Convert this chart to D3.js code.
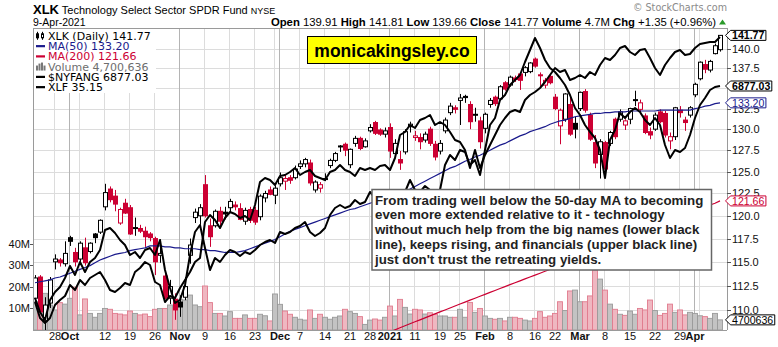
<!DOCTYPE html>
<html><head><meta charset="utf-8">
<script src="https://cdn.jsdelivr.net/npm/d3@7"></script>
<style>body{margin:0;background:#fff}svg{display:block}</style>
</head><body>
<svg id="c" width="778" height="347"></svg>
<script>
const dates = ["2020-09-22","2020-09-23","2020-09-24","2020-09-25","2020-09-28","2020-09-29","2020-09-30",
"2020-10-01","2020-10-02","2020-10-05","2020-10-06","2020-10-07","2020-10-08","2020-10-09","2020-10-12","2020-10-13","2020-10-14","2020-10-15","2020-10-16","2020-10-19","2020-10-20","2020-10-21","2020-10-22","2020-10-23","2020-10-26","2020-10-27","2020-10-28","2020-10-29","2020-10-30",
"2020-11-02","2020-11-03","2020-11-04","2020-11-05","2020-11-06","2020-11-09","2020-11-10","2020-11-11","2020-11-12","2020-11-13","2020-11-16","2020-11-17","2020-11-18","2020-11-19","2020-11-20","2020-11-23","2020-11-24","2020-11-25","2020-11-27","2020-11-30",
"2020-12-01","2020-12-02","2020-12-03","2020-12-04","2020-12-07","2020-12-08","2020-12-09","2020-12-10","2020-12-11","2020-12-14","2020-12-15","2020-12-16","2020-12-17","2020-12-18","2020-12-21","2020-12-22","2020-12-23","2020-12-24","2020-12-28","2020-12-29","2020-12-30","2020-12-31",
"2021-01-04","2021-01-05","2021-01-06","2021-01-07","2021-01-08","2021-01-11","2021-01-12","2021-01-13","2021-01-14","2021-01-15","2021-01-19","2021-01-20","2021-01-21","2021-01-22","2021-01-25","2021-01-26","2021-01-27","2021-01-28","2021-01-29",
"2021-02-01","2021-02-02","2021-02-03","2021-02-04","2021-02-05","2021-02-08","2021-02-09","2021-02-10","2021-02-11","2021-02-12","2021-02-16","2021-02-17","2021-02-18","2021-02-19","2021-02-22","2021-02-23","2021-02-24","2021-02-25","2021-02-26",
"2021-03-01","2021-03-02","2021-03-03","2021-03-04","2021-03-05","2021-03-08","2021-03-09","2021-03-10","2021-03-11","2021-03-12","2021-03-15","2021-03-16","2021-03-17","2021-03-18","2021-03-19","2021-03-22","2021-03-23","2021-03-24","2021-03-25","2021-03-26","2021-03-29","2021-03-30","2021-03-31",
"2021-04-01","2021-04-05","2021-04-06","2021-04-07","2021-04-08","2021-04-09"];

const prevClose = 112.0;
const opens = [111.2,113.4,108.9,110.7,115.0,115.2,114.8,117.6,116.0,115.3,
116.5,116.1,118.0,118.2,121.0,123.0,122.2,119.2,121.4,120.9,
118.7,118.6,118.3,118.0,117.5,115.7,113.5,111.2,111.1,110.8,
111.3,115.7,119.8,120.0,123.5,118.9,118.9,120.5,120.4,120.9,
121.2,120.8,119.4,120.7,120.6,119.9,122.0,122.9,122.3,123.6,
123.9,124.3,124.3,125.6,125.9,126.0,122.9,123.1,124.2,125.7,
126.3,128.0,128.2,125.8,128.3,128.9,127.9,129.8,130.8,129.9,
129.4,130.2,127.1,126.4,127.3,130.3,129.0,129.0,128.7,130.0,
128.2,127.4,129.8,132.0,132.6,133.5,134.0,133.0,131.8,131.0,
130.1,133.0,133.9,133.7,135.7,135.4,136.3,136.8,137.0,137.1,
138.7,136.7,135.4,136.5,133.9,130.4,131.2,133.0,130.7,132.5,
134.6,131.7,128.4,127.0,128.4,128.3,131.2,131.2,130.5,131.2,
133.6,132.4,131.6,129.7,130.0,132.1,131.9,128.6,129.1,132.3,
131.1,131.7,134.2,136.2,138.0,137.3,139.4,139.91];
const highs = [113.6,113.6,111.3,113.4,115.8,115.4,117.2,117.8,116.5,117.2,
117.6,117.1,118.1,119.6,123.6,123.3,122.9,120.9,121.9,121.2,
119.8,119.0,118.8,118.2,117.7,117.4,113.7,113.1,111.7,111.5,
113.4,117.5,120.8,121.3,124.6,119.7,120.7,121.0,121.0,121.9,
121.6,121.4,120.9,121.0,121.0,122.4,122.8,123.3,123.4,124.9,
124.6,124.6,125.7,126.3,126.6,126.4,124.0,123.8,124.8,126.5,
127.3,128.1,128.4,127.7,129.2,129.1,128.9,130.6,131.0,130.1,
130.2,130.7,128.8,127.4,130.0,130.9,129.8,129.5,129.7,130.3,
128.6,128.7,131.4,133.2,132.9,134.3,134.2,133.4,132.6,131.5,
132.0,133.8,134.1,135.4,135.9,136.6,136.6,137.0,137.8,138.3,
138.9,137.0,136.3,136.8,134.3,132.5,134.4,134.0,131.5,134.6,
134.9,132.0,129.3,128.8,128.6,129.8,131.4,132.4,131.2,132.6,
134.7,133.6,131.9,130.2,132.0,132.4,132.2,129.6,132.7,132.8,
131.5,132.8,135.7,138.4,138.6,138.6,140.7,141.81];
const lows = [110.8,109.6,107.9,110.2,114.2,114.5,114.5,116.7,114.5,115.0,
114.6,115.9,117.0,118.0,120.6,121.5,120.5,119.0,120.2,117.9,
117.8,118.1,116.6,117.2,113.6,114.9,111.1,110.6,109.0,109.3,
111.0,114.8,119.2,119.0,119.8,116.6,118.7,118.6,119.6,120.3,
120.6,119.5,119.0,119.2,119.0,119.5,121.5,122.3,121.3,123.3,
122.9,123.6,124.1,125.3,125.5,123.4,122.6,122.6,123.9,125.4,
126.1,127.3,126.8,125.4,127.9,127.5,127.8,129.6,129.3,129.2,
129.0,126.6,126.8,125.2,127.0,129.6,128.6,127.6,128.4,128.0,
126.3,127.0,129.5,131.7,131.9,130.5,133.2,130.0,130.9,127.7,
129.5,132.6,132.8,133.5,134.7,135.2,135.8,134.8,136.5,136.9,
137.6,135.3,135.0,135.5,132.3,128.2,130.9,129.2,128.9,132.2,
132.0,128.6,125.4,124.2,124.6,128.0,128.8,130.9,129.9,130.6,
132.8,131.8,129.4,128.8,129.8,130.7,129.0,127.6,128.7,131.4,
129.8,131.4,133.9,136.0,136.9,137.0,139.3,139.66];
const closes = [113.3,109.8,110.5,113.1,115.3,114.9,115.9,117.2,115.0,117.0,
114.9,117.0,117.6,119.5,122.6,121.8,121.3,120.7,120.3,118.0,
118.6,118.3,117.7,117.6,115.0,115.9,111.2,112.4,110.0,110.3,
112.4,116.8,120.4,120.9,120.0,117.7,120.5,119.4,120.2,121.6,
121.0,119.6,120.6,119.5,119.3,122.2,122.5,122.4,123.1,124.3,
124.2,124.0,125.3,125.9,126.4,123.7,123.8,123.5,124.1,126.3,
127.1,127.9,127.5,127.6,128.9,127.7,128.6,130.2,129.5,129.4,
129.8,127.4,128.3,126.0,129.7,130.6,129.2,128.5,129.4,128.3,
126.7,128.3,131.1,132.8,132.4,133.8,133.85,130.9,131.7,128.5,
131.8,133.5,133.1,135.2,134.9,136.4,136.1,136.0,137.6,138.2,
137.8,136.6,136.0,135.7,132.5,132.3,134.3,129.4,130.0,134.5,
132.3,128.8,126.0,128.5,125.3,129.6,129.1,132.1,131.0,132.5,
133.5,133.2,129.6,129.3,131.7,130.9,129.3,129.1,132.6,132.0,
130.8,132.6,135.5,138.3,137.4,138.4,140.42,141.77];
// volume, millions of shares
const volumes = [13.1,12.0,17.0,11.6,9.3,12.7,12.0,14.7,19.8,7.0,
14.4,7.7,5.9,7.7,10.0,9.6,7.7,7.4,7.0,8.8,
7.7,7.0,7.4,6.2,9.6,10.0,10.0,11.6,10.0,14.2,
13.9,16.2,11.6,10.8,20.4,12.7,7.7,7.7,6.5,8.5,
5.4,5.4,7.0,5.4,5.4,7.3,6.6,4.2,16.7,11.9,
8.8,7.3,5.9,5.0,4.6,9.3,5.4,7.3,5.9,5.0,
5.9,6.5,9.6,8.5,7.7,6.2,2.6,4.6,5.1,4.6,
5.9,11.1,6.5,14.2,10.5,7.4,9.6,9.3,7.4,8.0,
7.3,6.5,6.5,5.9,5.9,9.6,5.9,12.8,8.2,10.0,
6.5,5.4,5.0,5.4,4.2,5.9,5.9,5.4,4.6,4.2,
5.4,8.5,5.9,6.5,7.7,13.1,9.0,18.1,18.5,13.1,
13.1,15.8,27.8,23.6,18.5,12.0,9.6,7.3,6.8,8.8,
7.3,10.0,9.3,13.9,9.0,6.8,7.7,12.0,8.2,9.3,
7.0,8.2,7.7,6.6,6.2,5.4,7.7,4.700636];
const ma50 = [112.8,112.9,113.0,113.1,113.3,113.4,113.6,113.8,114.0,114.2,
114.4,114.6,114.9,115.2,115.4,115.6,115.8,115.9,116.0,116.2,
116.3,116.4,116.5,116.7,116.7,116.7,116.6,116.6,116.5,116.5,
116.4,116.4,116.4,116.3,116.3,116.2,116.2,116.1,116.0,116.0,
116.0,116.1,116.2,116.4,116.6,116.8,117.0,117.2,117.4,117.7,
118.0,118.3,118.5,118.7,118.9,119.1,119.3,119.5,119.7,119.9,
120.1,120.3,120.5,120.7,120.8,121.0,121.2,121.4,121.6,121.8,
122.0,122.2,122.4,122.6,122.8,123.0,123.3,123.6,123.9,124.2,
124.5,124.8,125.1,125.4,125.6,125.9,126.2,126.4,126.7,126.9,
127.2,127.5,127.8,128.1,128.3,128.6,128.9,129.2,129.4,129.7,
129.9,130.1,130.3,130.6,130.8,131.0,131.1,131.3,131.5,131.6,
131.7,131.8,131.9,131.9,132.0,132.0,132.1,132.1,132.1,132.2,
132.2,132.2,132.2,132.2,132.2,132.3,132.3,132.3,132.3,132.3,
132.3,132.3,132.5,132.6,132.8,132.9,133.1,133.2];
const ma200Start = 68; // first session index of the ma200 list
const ma200 = [107.2,107.4,107.6,107.8,108.0,
108.2,108.4,108.6,108.8,109.0,109.2,109.4,109.6,109.8,110.0,
110.2,110.4,110.6,110.8,111.0,111.2,111.4,111.6,111.8,112.0,
112.2,112.4,112.6,112.8,113.0,113.2,113.4,113.6,113.8,114.0,
114.2,114.4,114.6,114.9,115.1,115.3,115.5,115.7,116.0,116.2,
116.4,116.6,116.8,117.1,117.3,117.5,117.7,117.9,118.2,118.4,
118.6,118.8,119.0,119.3,119.5,119.7,119.9,120.1,120.4,120.6,
120.8,121.0,121.2,121.4,121.66];
const nyfang = [4757,4617,4537,4737,4817,4867,4957,5077,4987,5117,
5017,5117,5157,5237,5437,5457,5407,5337,5287,5187,
5217,5157,5237,5257,5187,5337,5037,4857,4707,4737,
4887,5187,5417,5487,5257,5037,5157,5117,5187,5237,
5217,5177,5217,5197,5237,5287,5317,5337,5307,5417,
5397,5417,5457,5477,5517,5417,5377,5407,5457,5587,
5657,5687,5657,5677,5737,5697,5717,5817,5757,5737,
5757,5687,5737,5637,5817,5937,5837,5817,5877,5837,
5757,5837,6087,6187,6137,6237,6217,6087,6137,5987,
6237,6487,6557,6737,6787,6887,6937,6987,7117,7237,
7357,7257,7137,7057,7017,6957,6887,6787,6657,6587,
6487,6417,6357,6237,5957,6337,6437,6607,6557,6617,
6657,6617,6537,6487,6557,6487,6287,6157,6237,6217,
6257,6387,6557,6687,6757,6837,6867,6877.03];
const xlf = [24.55,23.91,23.71,23.91,24.43,24.63,24.79,25.23,25.03,25.43,
25.23,25.51,25.63,25.75,25.43,25.03,24.95,25.11,25.31,25.23,
25.75,25.91,26.15,26.03,25.35,25.23,24.55,24.79,24.71,25.11,
25.43,25.75,26.15,26.31,27.75,28.03,27.83,27.51,27.91,28.15,
28.07,27.91,27.99,27.83,28.43,29.35,29.51,29.43,29.23,29.59,
29.63,29.75,29.91,29.63,29.75,29.83,29.59,29.51,29.43,29.75,
29.83,30.03,29.83,29.75,29.59,29.91,29.83,29.91,29.83,29.99,
30.03,29.83,30.31,31.23,31.35,31.63,31.51,31.83,31.91,32.03,
31.63,31.75,31.63,31.35,31.03,30.95,30.63,29.91,30.63,29.91,
30.43,30.83,31.23,31.63,31.91,32.15,32.23,32.15,32.63,32.83,
32.95,33.11,33.35,33.63,33.91,33.75,33.83,33.43,33.51,33.63,
33.51,33.75,33.63,34.03,34.31,34.23,34.43,34.71,34.79,34.55,
34.43,34.63,34.67,34.31,33.91,33.63,34.03,34.31,34.55,34.63,
34.43,34.47,34.71,34.87,34.91,34.95,34.95,35.15];

const priceDomain = [107.98, 142.74];
const volDomain = [0, 140];
const nyDomain = [4437, 7457];
const xlfDomain = [23.43, 35.51];
// 135.0 sits fully under the $NYFANG tag in the reference, so it is not listed
const priceTicks = [110, 112.5, 115, 117.5, 120, 122.5, 125, 127.5, 130, 132.5, 137.5, 140];
const gridTicks = [110, 112.5, 115, 117.5, 120, 122.5, 125, 127.5, 130, 132.5, 135, 137.5, 140];
const volTicks = [10, 20, 30, 40];
const xTickDates = ["2020-09-28","2020-10-01","2020-10-05","2020-10-12","2020-10-19","2020-10-26","2020-11-02","2020-11-09","2020-11-16","2020-11-23","2020-11-30","2020-12-01","2020-12-07","2020-12-14","2020-12-21","2020-12-28","2021-01-04","2021-01-11","2021-01-19","2021-01-25","2021-02-01","2021-02-08","2021-02-16","2021-02-22","2021-03-01","2021-03-08","2021-03-15","2021-03-22","2021-03-29","2021-04-01","2021-04-05"];
const xTickLabels = ["28","Oct","","12","19","26","Nov","9","16","23","","Dec","7","14","21","28","2021","11","19","25","Feb","8","16","22","Mar","8","15","22","29","Apr",""];
const monthTicks = ["2020-10-01","2020-11-02","2020-12-01","2021-01-04","2021-02-01","2021-03-01","2021-04-01"];
const noteLines = ["From trading well below the 50-day MA to becoming",
"even more extended relative to it - technology",
"without much help from the big names (lower black",
"line), keeps rising, and financials (upper black line)",
"just don't trust the retreating yields."];

const L = 33, R = 727, T = 28, B = 330;
const RED = "#cc0033", NAVY = "#1a1a8c";
const AR = "'Liberation Sans', Arial, sans-serif";
const DJ = "'DejaVu Sans', Verdana, sans-serif";
const svg = d3.select("#c");
svg.append("rect").attr("width",778).attr("height",347).attr("fill","#fff");
svg.append("clipPath").attr("id","pc").append("rect").attr("x",L).attr("y",T).attr("width",R-L).attr("height",B-T);

const x = d3.scalePoint().domain(dates).range([35, 720]);
const y = d3.scaleLog().domain(priceDomain).range([B, T]);
const yv = d3.scaleLinear().domain(volDomain).range([B, T]);
const yN = d3.scaleLinear().domain(nyDomain).range([B, T]);
const yF = d3.scaleLinear().domain(xlfDomain).range([B, T]);

// grid
const grid = svg.append("g");
grid.selectAll(".hg").data(gridTicks).join("line")
  .attr("x1",L).attr("x2",R).attr("y1",d=>Math.round(y(d))+0.5).attr("y2",d=>Math.round(y(d))+0.5)
  .attr("stroke","#dcdcdc").attr("stroke-width",1);
grid.selectAll(".vg").data(xTickDates).join("line")
  .attr("x1",d=>Math.round(x(d))-0.5).attr("x2",d=>Math.round(x(d))-0.5).attr("y1",T).attr("y2",B)
  .attr("stroke",d=>monthTicks.includes(d)?"#b4b4b4":"#dcdcdc").attr("stroke-width",1);

const plot = svg.append("g").attr("clip-path","url(#pc)");
// volume
const prevOf = i => i === 0 ? prevClose : closes[i-1];
plot.append("g").selectAll("rect").data(dates).join("rect")
  .attr("x",d=>x(d)-2.5).attr("width",5)
  .attr("y",(d,i)=>yv(volumes[i])).attr("height",(d,i)=>B-yv(volumes[i]))
  .attr("fill",(d,i)=>closes[i] < prevOf(i) ? "#efb7c1" : "#c3c3c3")
  .attr("stroke",(d,i)=>closes[i] < prevOf(i) ? "#e07b8e" : "#9a9a9a").attr("stroke-width",0.9);

// candles
const cg = plot.append("g");
dates.forEach((d,i)=>{
  const col = closes[i] < prevOf(i) ? RED : "#000";
  const hollow = closes[i] > opens[i];
  const cx = Math.round(x(d)) + 0.5;
  cg.append("line").attr("x1",cx).attr("x2",cx).attr("y1",y(highs[i])).attr("y2",y(lows[i]))
    .attr("stroke",col).attr("stroke-width",1);
  const top = y(Math.max(opens[i],closes[i])), bot = y(Math.min(opens[i],closes[i]));
  const h = Math.max(1, bot-top);
  if (hollow) {
    cg.append("rect").attr("x",cx-2).attr("y",top).attr("width",4).attr("height",h)
      .attr("fill","#fff").attr("stroke",col).attr("stroke-width",1);
  } else {
    cg.append("rect").attr("x",cx-2.5).attr("y",top-0.5).attr("width",5).attr("height",h+1).attr("fill",col);
  }
});

// MAs
plot.append("path").datum(ma50).attr("fill","none").attr("stroke",NAVY).attr("stroke-width",1.2)
  .attr("d",d3.line().x((v,i)=>x(dates[i])).y(v=>y(v)));
plot.append("path").datum(ma200).attr("fill","none").attr("stroke",RED).attr("stroke-width",1.2)
  .attr("d",d3.line().x((v,i)=>x(dates[i+ma200Start])).y(v=>y(v)));
// overlays
plot.append("path").datum(nyfang).attr("fill","none").attr("stroke","#000").attr("stroke-width",2).attr("stroke-linejoin","round")
  .attr("d",d3.line().x((v,i)=>x(dates[i])).y(v=>yN(v)));
plot.append("path").datum(xlf).attr("fill","none").attr("stroke","#000").attr("stroke-width",2).attr("stroke-linejoin","round")
  .attr("d",d3.line().x((v,i)=>x(dates[i])).y(v=>yF(v)));

// frame
const fr = svg.append("g").attr("stroke","#9a9a9a").attr("stroke-width",1);
fr.append("line").attr("x1",L+0.5).attr("x2",L+0.5).attr("y1",T).attr("y2",B);
fr.append("line").attr("x1",R+0.5).attr("x2",R+0.5).attr("y1",T).attr("y2",B);
fr.append("line").attr("x1",L).attr("x2",R).attr("y1",T+0.5).attr("y2",T+0.5);
fr.append("line").attr("x1",L).attr("x2",R).attr("y1",B+0.5).attr("y2",B+0.5);

// right price axis
const ra = svg.append("g");
priceTicks.forEach(t=>{
  const yy = Math.round(y(t))+0.5;
  ra.append("line").attr("x1",R).attr("x2",R+4).attr("y1",yy).attr("y2",yy).attr("stroke","#555");
  ra.append("text").attr("x",R+5).attr("y",yy).attr("dy","0.36em").attr("font-family",AR).attr("font-size",11)
    .attr("fill","#111").text(d3.format(".1f")(t));
});
// left volume axis
volTicks.forEach(t=>{
  const yy = Math.round(yv(t))+0.5;
  svg.append("line").attr("x1",L-3).attr("x2",L).attr("y1",yy).attr("y2",yy).attr("stroke","#555");
  svg.append("text").attr("x",L-3).attr("y",yy).attr("dy","0.36em").attr("text-anchor","end")
    .attr("font-family",AR).attr("font-size",11).attr("fill","#111").text(t+"M");
});
// x axis labels
xTickDates.forEach((d,i)=>{
  if (!xTickLabels[i]) return;
  svg.append("text").attr("x",x(d)).attr("y",340).attr("text-anchor","middle")
    .attr("font-family",AR).attr("font-size",11).attr("font-weight",monthTicks.includes(d)?"bold":"normal")
    .attr("fill","#111").text(xTickLabels[i]);
});

// legend
const lg = svg.append("g");
lg.append("rect").attr("x",L+1).attr("y",T+1).attr("width",122).attr("height",64).attr("fill","#fff");
const last = dates.length-1;
const legendItems = [
  {t:"XLK (Daily) "+closes[last].toFixed(2), c:"#000", icon:"candle"},
  {t:"MA(50) "+ma50[last].toFixed(2), c:NAVY, icon:"dash"},
  {t:"MA(200) "+ma200[ma200.length-1].toFixed(2), c:RED, icon:"dash"},
  {t:"Volume "+d3.format(",")(Math.round(volumes[last]*1e6)), c:"#6e6e6e", icon:"vol"},
  {t:"$NYFANG "+nyfang[last].toFixed(2), c:"#000", icon:"dash"},
  {t:"XLF "+xlf[last].toFixed(2), c:"#000", icon:"dash"}];
legendItems.forEach((it,k)=>{
  const by = 39.8 + k*10.25, cy = by-4;
  lg.append("text").attr("x",48).attr("y",by).attr("font-family",DJ).attr("font-size",11).attr("fill",it.c).text(it.t);
  if (it.icon==="dash") lg.append("rect").attr("x",36).attr("y",cy-1).attr("width",9).attr("height",2.2).attr("fill",it.c);
  else if (it.icon==="candle") {
    lg.append("line").attr("x1",37.5).attr("x2",37.5).attr("y1",cy-4).attr("y2",cy+4).attr("stroke","#000");
    lg.append("rect").attr("x",36).attr("y",cy-2.5).attr("width",3).attr("height",5).attr("fill","#000");
    lg.append("line").attr("x1",42.5).attr("x2",42.5).attr("y1",cy-4).attr("y2",cy+4).attr("stroke","#000");
    lg.append("rect").attr("x",41.5).attr("y",cy-2).attr("width",2).attr("height",4).attr("fill","#fff").attr("stroke","#000");
  } else {
    [[36,5],[38.5,7],[41,8],[43.5,5]].forEach(([bx,bh])=>lg.append("rect").attr("x",bx).attr("y",cy+4-bh).attr("width",2).attr("height",bh).attr("fill","#777"));
  }
});

// yellow label
svg.append("rect").attr("x",307.5).attr("y",36.5).attr("width",169).attr("height",27).attr("fill","#ffff00").attr("stroke","#000");
svg.append("text").attr("x",392).attr("y",56.5).attr("text-anchor","middle").attr("font-family",AR)
  .attr("font-weight","bold").attr("font-size",17.5).attr("fill","#000").text("monicakingsley.co");

// note
svg.append("rect").attr("x",372).attr("y",189.5).attr("width",339.5).attr("height",80.5).attr("fill","#fff").attr("stroke","#666").attr("stroke-width",1.5);
noteLines.forEach((t,k)=>svg.append("text").attr("x",375).attr("y",204.6+k*14.8).attr("font-family",AR)
  .attr("font-weight","bold").attr("font-size",13.3).attr("fill","#222").text(t));

// tags
function tag(yy, label, color, bold){
  const g = svg.append("g");
  const p = g.append("path");
  const t = g.append("text").attr("x",732).attr("y",yy).attr("dy","0.36em").attr("font-family",AR)
    .attr("font-size",10.6).attr("font-weight",bold?"bold":"normal").attr("fill",color).text(label);
  const w = t.node().getComputedTextLength();
  p.attr("d",`M725.5,${yy}L730.5,${yy-5}H${733.5+w}V${yy+5}H730.5Z`).attr("fill","#fff").attr("stroke",color).attr("stroke-width",1);
}
tag(y(ma200[ma200.length-1]), ma200[ma200.length-1].toFixed(2), RED, false);
tag(y(ma50[last]), ma50[last].toFixed(2), NAVY, false);
tag(yN(nyfang[last]), nyfang[last].toFixed(2), "#000", true);
tag(y(closes[last]), closes[last].toFixed(2), "#000", true);
tag(yv(volumes[last]), String(Math.round(volumes[last]*1e6)), "#000", false);

// header
svg.append("text").attr("x",33).attr("y",14).attr("font-family",AR).attr("fill","#000")
  .call(t=>{t.append("tspan").attr("font-weight","bold").attr("font-size",13).text("XLK");
    t.append("tspan").attr("font-size",11).text(" Technology Select Sector SPDR Fund ");
    t.append("tspan").attr("font-size",9).text("NYSE");});
svg.append("text").attr("x",33).attr("y",25.5).attr("font-family",AR).attr("font-size",10.5).attr("fill","#000").text("9-Apr-2021");
const chg = closes[last]-closes[last-1];
const hdr = [["Open",opens[last].toFixed(2)],["High",highs[last].toFixed(2)],["Low",lows[last].toFixed(2)],["Close",closes[last].toFixed(2)],
  ["Volume",(volumes[last]).toFixed(1)+"M"],["Chg","+"+chg.toFixed(2)+" (+"+(chg/closes[last-1]*100).toFixed(2)+"%)"]];
svg.append("text").attr("x",716).attr("y",25.5).attr("text-anchor","end").attr("font-family",AR).attr("font-size",11.3).attr("fill","#000")
  .call(t=>hdr.forEach(([k,v],i)=>{t.append("tspan").attr("font-weight","bold").text((i?"  ":"")+k);
    t.append("tspan").text(" "+v);}));
svg.append("path").attr("d","M719,24.5L722.5,19.5L726,24.5Z").attr("fill","#2a9a2a");
svg.append("text").attr("x",727).attr("y",11).attr("text-anchor","end").attr("font-family",DJ).attr("font-size",9.6)
  .attr("fill","#8a8a8a").text("\u00a9 StockCharts.com");
</script>
</body></html>
